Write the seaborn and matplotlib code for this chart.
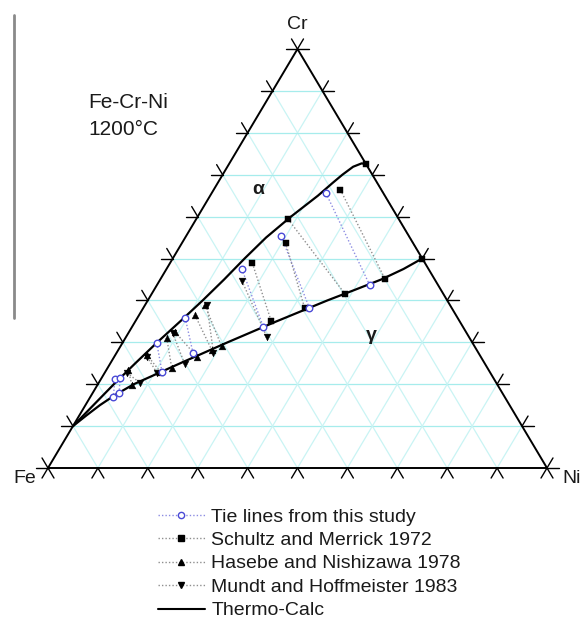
import numpy as np
import pandas as pd
import matplotlib
matplotlib.use("Agg")
import matplotlib.pyplot as plt
import seaborn as sns
from matplotlib.lines import Line2D

# ---------------- data (wt.% Cr, wt.% Ni; Fe = balance) ----------------
# Thermo-Calc phase boundaries at 1200 C
alpha_cr = [10, 15, 20, 25, 30, 35, 40, 45, 50, 55, 60, 65, 68, 70, 71.9, 72.7, 72.55]
alpha_ni = [0, 1.6, 3.2, 5.0, 6.9, 9.0, 11.0, 12.8, 14.4, 16.2, 18.7, 21.6, 23.0, 24.0, 25.2, 26.5, 27.45]
gamma_cr = [10, 12.5, 15, 17.5, 20, 25, 30, 35, 40, 42.5, 45, 47.5, 50]
gamma_ni = [0, 1.4, 2.9, 4.8, 7.2, 14.0, 21.0, 28.3, 36.0, 40.2, 44.3, 47.5, 50.0]

# Tie lines: alpha end (a) and gamma end (g)
study_a_cr = [21.2, 21.5, 29.8, 35.8, 47.5, 55.4, 65.6]
study_a_ni = [2.8, 3.7, 6.9, 9.6, 15.1, 19.0, 22.9]
study_g_cr = [17.0, 17.9, 22.9, 27.5, 33.7, 38.3, 43.7]
study_g_ni = [4.6, 5.3, 11.4, 15.3, 26.3, 33.2, 42.6]

schultz_a_cr = [72.5, 66.4, 59.4, 53.8, 48.9]
schultz_a_ni = [27.5, 25.4, 18.4, 20.7, 16.5]
schultz_g_cr = [50.0, 45.2, 41.5, 38.1, 35.2]
schultz_g_ni = [50.0, 44.9, 38.8, 32.4, 27.1]

hasebe_a_cr = [38.9, 36.5, 32.5, 31.0, 27.0, 23.4]
hasebe_a_ni = [12.0, 11.2, 9.2, 8.3, 6.3, 4.4]
hasebe_g_cr = [29.0, 28.2, 26.6, 23.8, 23.0, 19.8]
hasebe_g_ni = [20.3, 18.7, 16.5, 12.9, 11.0, 6.9]

mundt_a_cr = [44.7, 38.9, 32.2, 26.5, 22.7]
mundt_a_ni = [16.5, 12.4, 8.9, 6.6, 4.5]
mundt_g_cr = [31.3, 27.5, 24.8, 22.7, 20.3]
mundt_g_ni = [28.2, 19.4, 15.0, 10.5, 8.3]

legend_labels = ["Tie lines from this study", "Schultz and Merrick 1972",
                 "Hasebe and Nishizawa 1978", "Mundt and Hoffmeister 1983",
                 "Thermo-Calc"]
grid_levels = [10, 20, 30, 40, 50, 60, 70, 80, 90]
tick_levels = [0, 10, 20, 30, 40, 50, 60, 70, 80, 90, 100]

# ---------------- style ----------------
sns.set_theme(style="white")
plt.rcParams["font.family"] = ["Liberation Sans", "DejaVu Sans"]

W, H = 580, 622
FE_PX, BASE_PY, SX, SY = 48.0, 468.0, 4.99, 4.19   # triangle placement (layout)

fig = plt.figure(figsize=(W / 100, H / 100), dpi=100)
ax = fig.add_axes([0, 0, 1, 1])
ax.set_xlim(-FE_PX / SX, (W - FE_PX) / SX)
ax.set_ylim(-(H - BASE_PY) / SY, BASE_PY / SY)
ax.set_axis_off()


def tern(cr, ni):
    cr = np.asarray(cr, float)
    ni = np.asarray(ni, float)
    return ni + cr / 2.0, cr


def P(px, py):  # pixel layout -> data coords (for text only)
    return (px - FE_PX) / SX, (BASE_PY - py) / SY


# grid
hcol, dcol = "#a6ecec", "#c9f4f4"
for k in grid_levels:
    x, y = tern([k, k], [0, 100 - k])
    ax.plot(x, y, color=hcol, lw=0.9, zorder=1)
    x, y = tern([0, 100 - k], [k, k])
    ax.plot(x, y, color=dcol, lw=0.9, zorder=1)
    x, y = tern([0, 100 - k], [100 - k, 0])
    ax.plot(x, y, color=dcol, lw=0.9, zorder=1)

# triangle sides
x, y = tern([0, 0, 100, 0], [0, 100, 0, 0])
ax.plot(x, y, color="black", lw=1.4, zorder=3)

# ticks (extensions of grid lines outside the triangle)
t = 2.4
for k in tick_levels:
    # base (Cr = 0), Ni = k
    for (c2, n2) in [(-t, k + t), (-t, k)]:
        x, y = tern([0, c2], [k, n2])
        ax.plot(x, y, color="black", lw=1.0, zorder=3)
    # left side (Ni = 0), Cr = k
    for (c2, n2) in [(k, -t), (k + t, -t)]:
        x, y = tern([k, c2], [0, n2])
        ax.plot(x, y, color="black", lw=1.0, zorder=3)
    # right side (Fe = 0), Cr = k, Ni = 100-k
    for (c2, n2) in [(k, 100 - k + t), (k + t, 100 - k)]:
        x, y = tern([k, c2], [100 - k, n2])
        ax.plot(x, y, color="black", lw=1.0, zorder=3)

# tie lines
def tie_lines(acr, ani, gcr, gni, color):
    for a_c, a_n, g_c, g_n in zip(acr, ani, gcr, gni):
        x, y = tern([a_c, g_c], [a_n, g_n])
        ax.plot(x, y, color=color, lw=1.0, ls=(0, (1, 1.5)), zorder=2)

study_line = "#8c8ce2"
lit_line = "#8f8f8f"
tie_lines(study_a_cr, study_a_ni, study_g_cr, study_g_ni, study_line)
tie_lines(schultz_a_cr, schultz_a_ni, schultz_g_cr, schultz_g_ni, lit_line)
tie_lines(hasebe_a_cr, hasebe_a_ni, hasebe_g_cr, hasebe_g_ni, lit_line)
tie_lines(mundt_a_cr, mundt_a_ni, mundt_g_cr, mundt_g_ni, lit_line)

# phase boundaries
xa, ya = tern(alpha_cr, alpha_ni)
xg, yg = tern(gamma_cr, gamma_ni)
sns.lineplot(x=xa, y=ya, sort=False, estimator=None, color="black", lw=1.6, ax=ax, zorder=4)
sns.lineplot(x=xg, y=yg, sort=False, estimator=None, color="black", lw=1.6, ax=ax, zorder=4)

# markers
def points(acr, ani, gcr, gni, **kw):
    x1, y1 = tern(acr, ani)
    x2, y2 = tern(gcr, gni)
    df = pd.DataFrame({"x": np.concatenate([x1, x2]), "y": np.concatenate([y1, y2])})
    sns.scatterplot(data=df, x="x", y="y", ax=ax, zorder=5, legend=False, **kw)

points(schultz_a_cr, schultz_a_ni, schultz_g_cr, schultz_g_ni,
       marker="s", s=16, color="black", edgecolor="black", linewidth=0.3)
points(hasebe_a_cr, hasebe_a_ni, hasebe_g_cr, hasebe_g_ni,
       marker="^", s=24, color="black", edgecolor="black", linewidth=0.3)
points(mundt_a_cr, mundt_a_ni, mundt_g_cr, mundt_g_ni,
       marker="v", s=24, color="black", edgecolor="black", linewidth=0.3)
points(study_a_cr, study_a_ni, study_g_cr, study_g_ni,
       marker="o", s=22, color="white", edgecolor="#4a4ad6", linewidth=1.0)

ax.set_xlabel("")
ax.set_ylabel("")

# texts
tx = dict(fontsize=15, color="#1a1a1a")
ax.text(*P(88, 108), "Fe-Cr-Ni", ha="left", va="baseline", **tx)
ax.text(*P(88, 135), "1200°C", ha="left", va="baseline", **tx)
ax.text(*P(297, 29), "Cr", ha="center", va="baseline", fontsize=14, color="#1a1a1a")
ax.text(*P(36, 483), "Fe", ha="right", va="baseline", fontsize=14, color="#1a1a1a")
ax.text(*P(562, 483), "Ni", ha="left", va="baseline", fontsize=14, color="#1a1a1a")
ax.text(*P(258, 190), "α", ha="center", va="center", fontsize=14, fontweight="bold", color="#1a1a1a")
ax.text(*P(371, 336), "γ", ha="center", va="center", fontsize=14, fontweight="bold", color="#1a1a1a")

# stray vertical rule at the left edge
ax.plot(*zip(P(14, 15), P(14, 318)), color="#8a8a8a", lw=2.0)

# legend
handles = [
    Line2D([], [], color=study_line, lw=1.0, ls=(0, (1, 1.5)), marker="o", ms=4.5,
           mfc="white", mec="#4a4ad6", mew=1.0),
    Line2D([], [], color=lit_line, lw=1.0, ls=(0, (1, 1.5)), marker="s", ms=4.0,
           mfc="black", mec="black"),
    Line2D([], [], color=lit_line, lw=1.0, ls=(0, (1, 1.5)), marker="^", ms=5.0,
           mfc="black", mec="black"),
    Line2D([], [], color=lit_line, lw=1.0, ls=(0, (1, 1.5)), marker="v", ms=5.0,
           mfc="black", mec="black"),
    Line2D([], [], color="black", lw=1.5),
]
fig.legend(handles, legend_labels, loc="upper left",
           bbox_to_anchor=(158 / W, 1 - 508 / H), frameon=False, fontsize=14,
           handlelength=2.4, handletextpad=0.35, labelspacing=0.3,
           borderpad=0, borderaxespad=0, labelcolor="#1a1a1a")

fig.savefig("out.png", dpi=100, facecolor="white")
